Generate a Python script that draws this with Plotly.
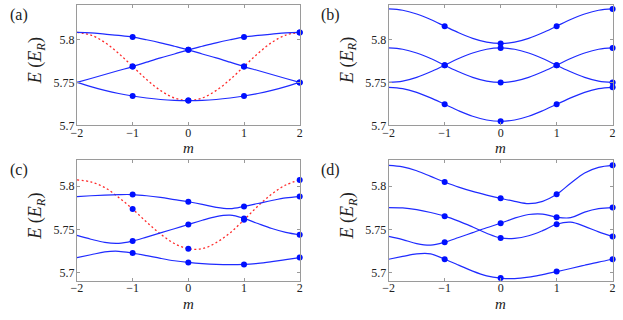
import plotly.graph_objects as go

# m grid (quarter steps) and marker positions
m = [-2, -1.75, -1.5, -1.25, -1, -0.75, -0.5, -0.25, 0,
     0.25, 0.5, 0.75, 1, 1.25, 1.5, 1.75, 2]
m_marks = [-1, 0, 1, 2]

# panel (a)
a_band1 = [5.808, 5.8075, 5.806, 5.8045, 5.8026, 5.7995, 5.796, 5.792, 5.7878,
           5.783, 5.7785, 5.7735, 5.7684, 5.7638, 5.7592, 5.7546, 5.75]
a_band2 = a_band1[::-1]
a_band3 = [5.75, 5.7451, 5.7408, 5.7371, 5.7342, 5.7319, 5.7302, 5.7292, 5.7289,
           5.7292, 5.7302, 5.7319, 5.7342, 5.7371, 5.7408, 5.7451, 5.75]
a_red = [5.808, 5.805, 5.7964, 5.7836, 5.7685, 5.7534, 5.7406, 5.732, 5.729,
         5.732, 5.7406, 5.7534, 5.7685, 5.7836, 5.7964, 5.805, 5.808]

# panel (b)
b_band1 = [5.8353, 5.8338, 5.8294, 5.823, 5.8153, 5.8076, 5.8012, 5.7968, 5.7953,
           5.7968, 5.8012, 5.8076, 5.8153, 5.823, 5.8294, 5.8338, 5.8353]
b_band2 = [5.79, 5.7885, 5.7841, 5.7777, 5.77, 5.7623, 5.7559, 5.7515, 5.75,
           5.7515, 5.7559, 5.7623, 5.77, 5.7777, 5.7841, 5.7885, 5.79]
b_band3 = [5.75, 5.7515, 5.7559, 5.7623, 5.77, 5.7777, 5.7841, 5.7885, 5.79,
           5.7885, 5.7841, 5.7777, 5.77, 5.7623, 5.7559, 5.7515, 5.75]
b_band4 = [5.7443, 5.7428, 5.7385, 5.7321, 5.7246, 5.7171, 5.7107, 5.7064, 5.7049,
           5.7064, 5.7107, 5.7171, 5.7246, 5.7321, 5.7385, 5.7428, 5.7443]

# panel (c)
c_band1 = [5.788, 5.789, 5.7898, 5.7903, 5.7903, 5.789, 5.787, 5.7845, 5.782,
           5.779, 5.7755, 5.774, 5.7766, 5.78, 5.7835, 5.7865, 5.788]
c_band2 = [5.7429, 5.7385, 5.7348, 5.7338, 5.7365, 5.741, 5.7458, 5.7507, 5.7556,
           5.7605, 5.7648, 5.7664, 5.7627, 5.7567, 5.751, 5.7465, 5.7437]
c_band3 = [5.7172, 5.7205, 5.7238, 5.7245, 5.7224, 5.7195, 5.7163, 5.7135, 5.7116,
           5.7102, 5.7093, 5.709, 5.7093, 5.7105, 5.7125, 5.7148, 5.7172]
c_red = [5.8073, 5.805, 5.7985, 5.787, 5.7735, 5.7585, 5.7445, 5.7335, 5.7275,
         5.7275, 5.7345, 5.746, 5.761, 5.777, 5.791, 5.8015, 5.8073]

# panel (d)
d_band1 = [5.8243, 5.8225, 5.818, 5.8115, 5.805, 5.799, 5.794, 5.7898, 5.786,
           5.7825, 5.7798, 5.7825, 5.7906, 5.8035, 5.8155, 5.822, 5.8243]
d_band2 = [5.7752, 5.7748, 5.7728, 5.7695, 5.7653, 5.7595, 5.7527, 5.7455, 5.74,
           5.7395, 5.7425, 5.7485, 5.7559, 5.7583, 5.7535, 5.747, 5.7418]
d_band3 = [5.7418, 5.738, 5.7335, 5.7317, 5.735, 5.7405, 5.7462, 5.7518, 5.757,
           5.763, 5.7672, 5.7677, 5.7641, 5.7635, 5.77, 5.774, 5.7752]
d_band4 = [5.7153, 5.7185, 5.7215, 5.7215, 5.7153, 5.7085, 5.7015, 5.696, 5.6934,
           5.6928, 5.6945, 5.6975, 5.7009, 5.7045, 5.7083, 5.712, 5.7153]

x_ticks = [-2, -1, 0, 1, 2]
x_ticktext = ["\u22122", "\u22121", "0", "1", "2"]
y_ticks = [5.7, 5.75, 5.8]
y_ticktext = ["5.7", "5.75", "5.8"]

BLUE = "#1f2bff"
RED = "#ff2a2a"
FRAME = "#9a9a9a"
SERIF = "Liberation Serif, DejaVu Serif, serif"

panels = [
    ("(a)", [a_band1, a_band2, a_band3], [a_red], [72, 298], [5, 128.3], [5.7, 5.84]),
    ("(b)", [b_band1, b_band2, b_band3, b_band4], [], [388.3, 615.5], [5, 128.3], [5.7, 5.84]),
    ("(c)", [c_band1, c_band2, c_band3], [c_red], [72, 298], [164, 287.3], [5.69, 5.83]),
    ("(d)", [d_band1, d_band2, d_band3, d_band4], [], [388.3, 615.5], [164, 287.3], [5.69, 5.83]),
]

W, H = 623, 320
mark_idx = [m.index(v) for v in m_marks]

fig = go.Figure()
annotations = []

for i, (label, bands, dashed, xpx, ypx, yrange) in enumerate(panels):
    n = "" if i == 0 else str(i + 1)
    xref, yref = "x" + n, "y" + n

    for band in dashed:
        fig.add_trace(go.Scatter(
            x=m, y=band, mode="lines", xaxis=xref, yaxis=yref,
            line=dict(color=RED, width=1.3, dash="2px,2.5px", shape="spline"),
            showlegend=False
        ))
    for band in bands:
        fig.add_trace(go.Scatter(
            x=m, y=band, mode="lines", xaxis=xref, yaxis=yref,
            line=dict(color=BLUE, width=1.2, shape="spline"),
            showlegend=False
        ))
    for band in bands + dashed:
        fig.add_trace(go.Scatter(
            x=m_marks, y=[band[k] for k in mark_idx], mode="markers",
            xaxis=xref, yaxis=yref, cliponaxis=False,
            marker=dict(color="#0010ff", size=6),
            showlegend=False
        ))

    xdom = [xpx[0] / W, xpx[1] / W]
    ydom = [1 - ypx[1] / H, 1 - ypx[0] / H]
    axis_common = dict(
        showline=True, linecolor=FRAME, linewidth=1, mirror="ticks",
        ticks="inside", ticklen=3, tickcolor=FRAME, showgrid=False,
        zeroline=False, tickfont=dict(family=SERIF, size=12, color="#222"),
    )
    fig.update_layout({
        "xaxis" + n: dict(domain=xdom, range=[-2, 2], anchor=yref,
                          tickvals=x_ticks, ticktext=x_ticktext,
                          ticklabelstandoff=-4, **axis_common),
        "yaxis" + n: dict(domain=ydom, range=yrange, anchor=xref,
                          tickvals=y_ticks, ticktext=y_ticktext,
                          ticklabelstandoff=-1, **axis_common),
    })

    xmid = (xpx[0] + xpx[1]) / 2
    annotations.append(dict(
        text="<i>m</i>", x=xmid / W, y=1 - (ypx[1] + 23.5) / H,
        xanchor="center", yanchor="middle",
        xref="paper", yref="paper", showarrow=False,
        font=dict(family=SERIF, size=15, color="#222")
    ))
    annotations.append(dict(
        text="<i>E</i> (<i>E</i><sub><i>R</i></sub>)",
        x=(xpx[0] - 41) / W, y=1 - (ypx[0] + 57) / H,
        xanchor="center", yanchor="middle",
        xref="paper", yref="paper", showarrow=False, textangle=-90,
        font=dict(family=SERIF, size=18, color="#222")
    ))
    annotations.append(dict(
        text=label, x=(xpx[0] - 59) / W, y=1 - (ypx[0] + 10) / H,
        xanchor="center", yanchor="middle",
        xref="paper", yref="paper", showarrow=False,
        font=dict(family=SERIF, size=16, color="#222")
    ))

fig.update_layout(
    width=W, height=H,
    margin=dict(l=0, r=0, t=0, b=0),
    paper_bgcolor="white", plot_bgcolor="white",
    annotations=annotations,
)

fig.write_html(
    "out.html",
    config={"displayModeBar": False},
    post_script="document.body.style.margin='0px';"
)
